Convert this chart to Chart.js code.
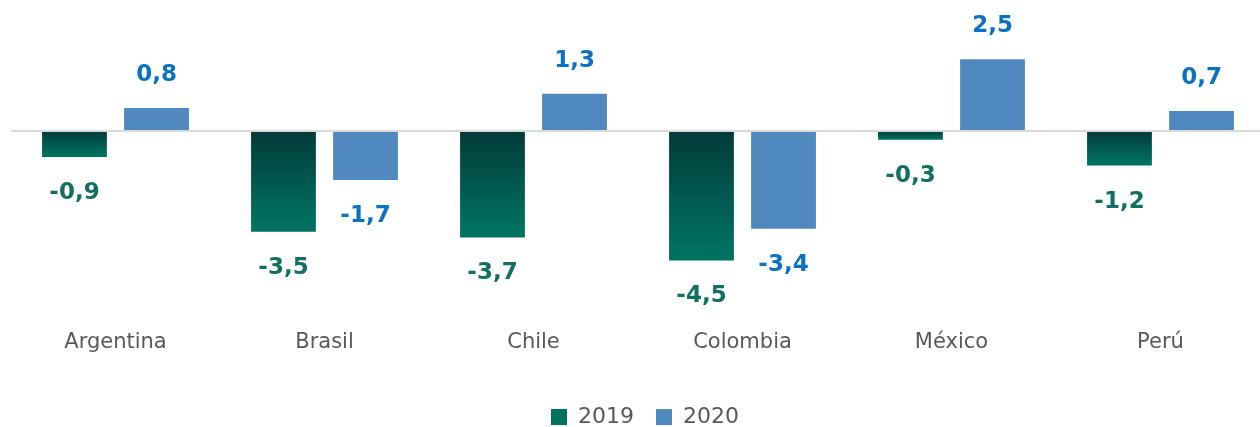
<!DOCTYPE html>
<html>
<head>
<meta charset="utf-8">
<script src="https://cdn.jsdelivr.net/npm/chart.js@4.4.1/dist/chart.umd.min.js"></script>
<style>
  html, body { margin: 0; padding: 0; background: #ffffff; overflow: hidden; }
  #wrap { position: relative; width: 1265px; height: 438px; }
</style>
</head>
<body>
<div id="wrap"><canvas id="c"></canvas></div>
<script>
const categories = ['Argentina', 'Brasil', 'Chile', 'Colombia', 'México', 'Perú'];
const seriesNames = ['2019', '2020'];
const values2019 = [-0.9, -3.5, -3.7, -4.5, -0.3, -1.2];
const values2020 = [0.8, -1.7, 1.3, -3.4, 2.5, 0.7];

const GREEN_DARK = '#023a39';
const GREEN = '#00705f';
const BLUE = '#5089be';
const LABEL_GREEN = '#11705f';
const LABEL_BLUE = '#0a72c2';
const FONT = "'DejaVu Sans', sans-serif";

function green(ctx) {
  const chart = ctx.chart;
  const c = chart.ctx;
  const sy = chart.scales && chart.scales.y;
  if (ctx.type === 'data') {
    if (!sy) return GREEN;
    const y0 = sy.getPixelForValue(0);
    const y1 = sy.getPixelForValue(ctx.raw);
    if (!isFinite(y0) || !isFinite(y1) || y0 === y1) return GREEN;
    const g = c.createLinearGradient(0, y0, 0, y0 + (y1 - y0) * 0.9);
    g.addColorStop(0, GREEN_DARK);
    g.addColorStop(1, GREEN);
    return g;
  }
  const g = c.createLinearGradient(0, 407, 0, 424);
  g.addColorStop(0, GREEN_DARK);
  g.addColorStop(1, GREEN);
  return g;
}

const zeroLine = {
  id: 'zeroLine',
  afterDatasetsDraw(chart) {
    const c = chart.ctx;
    const y = chart.scales.y.getPixelForValue(0);
    c.save();
    c.strokeStyle = '#d9d9d9';
    c.lineWidth = 2;
    c.beginPath();
    c.moveTo(chart.chartArea.left, y);
    c.lineTo(chart.chartArea.right, y);
    c.stroke();
    c.restore();
  }
};

const legendShift = {
  id: 'legendShift',
  afterLayout(chart) {
    if (chart.legend) {
      chart.legend.left += 7;
      chart.legend.right += 7;
    }
  }
};

const valueLabels = {
  id: 'valueLabels',
  afterDatasetsDraw(chart) {
    const c = chart.ctx;
    c.save();
    c.font = "bold 23px " + FONT;
    c.textAlign = 'center';
    c.textBaseline = 'middle';
    chart.data.datasets.forEach((ds, di) => {
      const meta = chart.getDatasetMeta(di);
      c.fillStyle = di === 0 ? LABEL_GREEN : LABEL_BLUE;
      meta.data.forEach((bar, i) => {
        const v = ds.data[i];
        const txt = v.toFixed(1).replace('.', ',');
        const y = v >= 0 ? bar.y - 33 : bar.y + 36;
        c.fillText(txt, bar.x, y);
      });
    });
    c.restore();
  }
};

new Chart(document.getElementById('c'), {
  type: 'bar',
  data: {
    labels: categories,
    datasets: [
      { label: seriesNames[0], data: values2019, backgroundColor: green },
      { label: seriesNames[1], data: values2020, backgroundColor: BLUE }
    ]
  },
  options: {
    responsive: true,
    maintainAspectRatio: false,
    animation: false,
    layout: { padding: { left: 11, right: 0, top: 16, bottom: 0 } },
    datasets: { bar: { categoryPercentage: 0.785, barPercentage: 0.79 } },
    scales: {
      x: {
        grid: { display: false },
        border: { display: false },
        ticks: { color: '#595959', font: { family: FONT, size: 21 }, padding: 4 },
        afterFit(scale) { scale.height = 66; }
      },
      y: {
        display: false,
        min: -6.5,
        max: 4
      }
    },
    plugins: {
      legend: {
        position: 'bottom',
        labels: {
          color: '#595959',
          font: { family: FONT, size: 22 },
          boxWidth: 16,
          boxHeight: 16,
          padding: 22
        }
      },
      tooltip: { enabled: false }
    }
  },
  plugins: [zeroLine, valueLabels, legendShift]
});
</script>
</body>
</html>
